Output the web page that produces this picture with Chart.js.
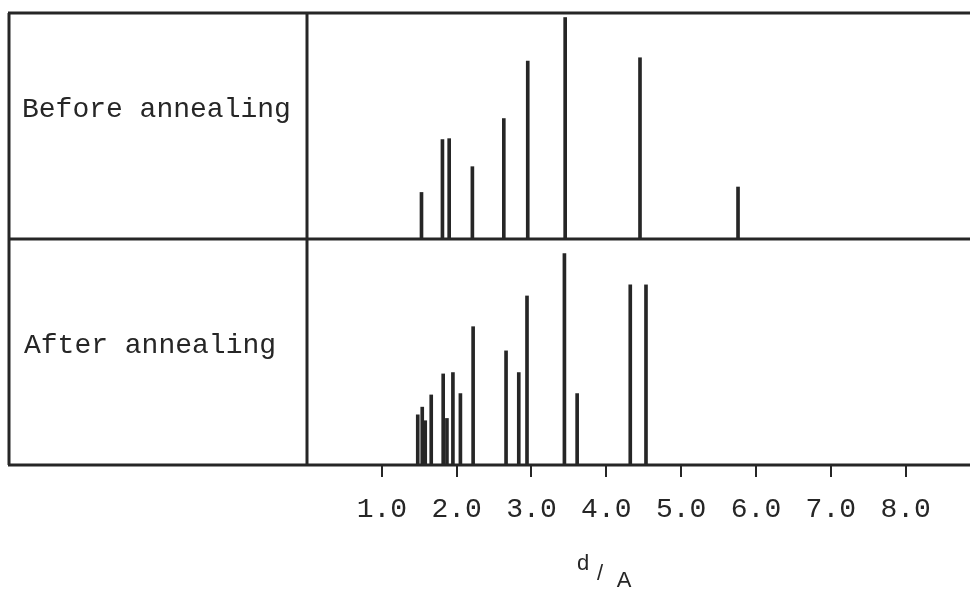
<!DOCTYPE html>
<html>

<head>
    <meta charset="UTF-8">
    <title>d-spacings before and after annealing</title>
    <style>
        html, body { margin: 0; padding: 0; background: #ffffff; }
    </style>
</head>

<body>
    <canvas id="chart" width="970" height="589"></canvas>
    <script src="https://cdn.jsdelivr.net/npm/chart.js"></script>
    <script>
        // d spacing (A) and line height (% of panel height)
        const beforeD = [1.53, 1.81, 1.90, 2.21, 2.63, 2.95, 3.45, 4.45, 5.76];
        const beforeI = [20.6, 44.0, 44.4, 32.0, 53.3, 78.7, 98.0, 80.2, 23.0];
        const afterD = [1.48, 1.54, 1.58, 1.66, 1.82, 1.87, 1.95, 2.05, 2.22, 2.66, 2.83, 2.94, 3.44, 3.61, 4.32, 4.53];
        const afterI = [22.2, 25.6, 19.6, 31.0, 40.3, 20.6, 40.9, 31.6, 61.2, 50.5, 40.9, 74.8, 93.6, 31.6, 79.7, 79.7];
        const tickValues = [1, 2, 3, 4, 5, 6, 7, 8];
        const panelLabels = ['Before annealing', 'After annealing'];
        const axisTitle = ['d', '/', 'A'];

        const ink = '#262626';
        const typewriter = '"Liberation Mono", "DejaVu Sans Mono", monospace';

        // table frame, row labels and the d/A title
        const framePlugin = {
            id: 'frame',
            afterDraw(chart) {
                const { ctx, chartArea: a, scales } = chart;
                const mid = scales.yBot.getPixelForValue(100);
                ctx.save();
                ctx.strokeStyle = ink;
                ctx.lineWidth = 3;
                ctx.beginPath();
                [a.top, mid, a.bottom].forEach((y) => { ctx.moveTo(8, y); ctx.lineTo(a.right, y); });
                [9, a.left].forEach((x) => { ctx.moveTo(x, a.top); ctx.lineTo(x, a.bottom); });
                ctx.stroke();

                ctx.fillStyle = ink;
                ctx.font = '28px ' + typewriter;
                ctx.textBaseline = 'alphabetic';
                ctx.fillText(panelLabels[0], 22, a.top + 104);
                ctx.fillText(panelLabels[1], 24, mid + 114);

                ctx.font = '22px "Liberation Sans", Arial, sans-serif';
                ctx.textAlign = 'center';
                ctx.fillText(axisTitle[0], 583, 570);
                ctx.fillText(axisTitle[1], 600, 580);
                ctx.fillText(axisTitle[2], 624, 587);
                ctx.restore();
            }
        };

        const stick = {
            type: 'bar',
            backgroundColor: ink,
            barThickness: 3,
            grouped: false,
            borderWidth: 0,
        };

        new Chart(document.getElementById('chart').getContext('2d'), {
            type: 'bar',
            data: {
                datasets: [
                    {
                        ...stick,
                        label: panelLabels[0],
                        data: beforeD.map((d, i) => ({ x: d, y: beforeI[i] })),
                        yAxisID: 'yTop',
                    },
                    {
                        ...stick,
                        label: panelLabels[1],
                        data: afterD.map((d, i) => ({ x: d, y: afterI[i] })),
                        yAxisID: 'yBot',
                    },
                ],
            },
            options: {
                responsive: false,
                animation: false,
                layout: { padding: { left: 307, top: 13, right: 0, bottom: 0 } },
                plugins: {
                    legend: { display: false },
                    tooltip: { enabled: false },
                },
                scales: {
                    x: {
                        type: 'linear',
                        min: 0,
                        max: 8.86,
                        offset: false,
                        afterBuildTicks: (scale) => { scale.ticks = tickValues.map((v) => ({ value: v })); },
                        afterFit: (scale) => { scale.height = 124; },
                        border: { display: false },
                        grid: { offset: false, drawOnChartArea: false, tickLength: 12, color: ink, lineWidth: 2 },
                        ticks: {
                            autoSkip: false,
                            maxRotation: 0,
                            padding: 16,
                            color: ink,
                            font: { family: typewriter, size: 28 },
                            callback: (v) => Number(v).toFixed(1),
                        },
                    },
                    yTop: { display: false, min: -100, max: 100 },
                    yBot: { display: false, min: 0, max: 200 },
                },
            },
            plugins: [framePlugin],
        });
    </script>
</body>

</html>
